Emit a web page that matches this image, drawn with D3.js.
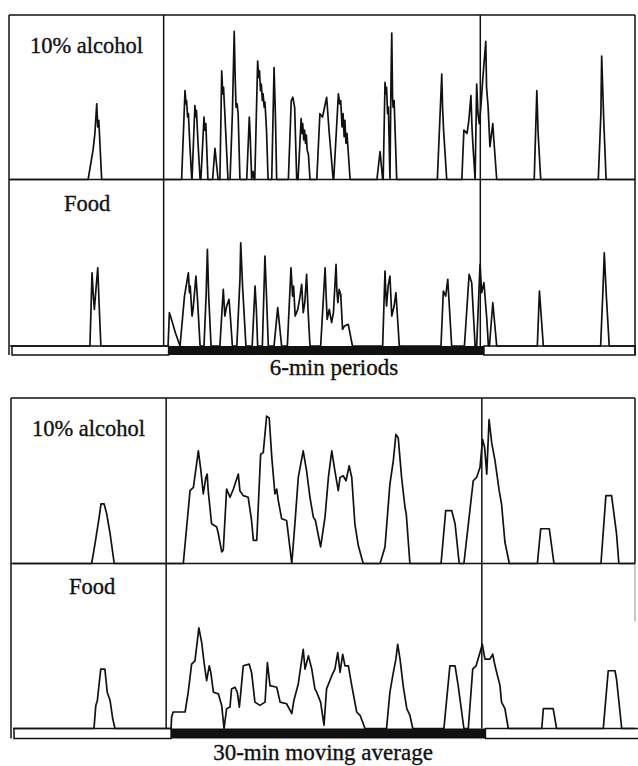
<!DOCTYPE html>
<html>
<head>
<meta charset="utf-8">
<script src="https://cdnjs.cloudflare.com/ajax/libs/d3/7.8.5/d3.min.js"></script>
<style>
  body { margin: 0; background: #fff; }
  svg { display: block; }
  .frame { stroke: #111; stroke-width: 1.5; fill: none; }
  .trace { stroke: #111; stroke-width: 1.7; fill: none; stroke-linejoin: round; }
  .label, .caption { font-family: "Liberation Serif", "DejaVu Serif", serif; fill: #111; stroke: #111; stroke-width: 0.35; }
  .label { font-size: 22.5px; }
  .caption { font-size: 23px; }
</style>
</head>
<body>
<div id="chart"></div>
<script>
// x = 6-min period index (0-240, i.e. 24 h), y = relative intake (100 = full row height)
var periods = [0, 240];
var darkPeriod = [60.9, 182];
var markers = [59, 180.6];
var rowLabels = ["10% alcohol", "Food"];
var captions = ["6-min periods", "30-min moving average"];

// bouts of drinking / eating, each one a list of [period, value]
var alcohol6min = [
    [[30,0],[31.9,18],[32.6,28],[33.3,46],[33.7,32],[34.1,36],[35.2,0]],
    [[65.9,0],[67.2,54],[67.6,46],[67.8,48],[68.2,38],[68.5,40],[69.1,20],[69.8,0]],
    [[69.9,0],[71,45],[71.3,38],[71.6,42],[72.2,22],[73,0]],
    [[73.3,0],[74.5,38],[74.8,30],[75.2,34],[76,0]],
    [[77.8,0],[78.7,19],[79.9,0]],
    [[80.6,0],[81.3,66],[81.7,52],[82,56],[82.5,40],[83.7,0]],
    [[84.5,0],[85.4,40],[86.1,90],[86.5,60],[86.8,44],[87.2,46],[87.6,40],[88.3,0]],
    [[90.9,0],[91.9,38],[92.2,28],[92.8,0],[93.3,5],[93.8,0]],
    [[94,0],[95.1,72],[95.5,62],[95.8,66],[96.2,54],[96.5,58],[96.9,48],[97.2,52],[97.6,44],[97.9,47],[98.5,30],[99.1,0]],
    [[100.5,0],[101.4,68],[101.9,40],[102.4,0]],
    [[106.9,0],[108,48],[108.6,50],[109.3,44],[110.1,0]],
    [[110.6,0],[111.8,37],[112.1,28],[112.4,34],[112.8,24],[113.1,30],[113.5,22],[113.8,27],[114.1,18],[114.6,15],[115.2,0]],
    [[117.8,0],[119,40],[120,38],[121.6,50],[122.5,30],[124.1,0]],
    [[124.3,0],[126.1,52],[126.6,46],[127,48],[127.5,32],[127.9,40],[128.3,26],[128.6,36],[129,22],[129.4,28],[130.6,0]],
    [[140.9,0],[142.1,17],[142.4,12],[143.1,0]],
    [[143.3,0],[144,59],[144.4,52],[144.6,56],[145,40],[145.3,44],[145.9,0],[146.3,60],[146.6,89],[146.9,50],
     [147.1,44],[147.5,48],[148.5,0]],
    [[164.1,0],[165.8,64],[166.1,44],[166.5,30],[167.7,0]],
    [[173.5,0],[174.3,30],[175.5,28],[176.2,36],[177,51],[177.4,32],[177.8,20],[178.6,0],[179.2,58],[179.7,40],
     [180.2,34],[180.8,44],[181.5,60],[182.7,84],[183,56],[183.6,44],[184.3,20],[185.4,34],[185.8,24],[186.9,0]],
    [[201.3,0],[202.3,54],[202.8,28],[203.8,0]],
    [[225.9,0],[226.9,40],[227.2,75],[228,36],[228.9,0]]
];

var food6min = [
    [[30.7,0],[31.5,44],[32,30],[32.4,22],[33,34],[33.7,47],[34.2,26],[34.9,0]],
    [[60.7,0],[61.2,20],[62,16],[63.5,8],[65.3,0]],
    [[65.3,0],[67,30],[68.5,44],[68.9,32],[69.2,36],[69.9,18],[70.3,22],[71.4,42],[72,28],[73,0]],
    [[74.5,0],[75.3,30],[75.8,58],[76.3,30],[77.2,0]],
    [[80.6,0],[81.9,34],[82.5,18],[83.2,24],[84.1,28],[84.6,18],[85.4,0]],
    [[87.1,0],[88.3,40],[88.6,62],[89.3,36],[90.6,0]],
    [[93,0],[94.1,36],[94.6,22],[95.1,0]],
    [[96.9,0],[97.9,54],[98.5,30],[99.2,0]],
    [[101.4,0],[102.8,23],[104.3,0]],
    [[106.5,0],[107.9,47],[108.5,30],[108.9,36],[109.5,18],[110.5,22],[111.2,28],[112,37],[112.6,20],[113.2,26],
     [113.9,43],[114.5,20],[115.2,0]],
    [[119.3,0],[121,47],[121.4,30],[121.8,16],[122.6,22],[123.5,14],[124.2,20],[125.2,49],[125.5,34],[125.9,26],
     [126.4,34],[127,31],[127.7,10],[128.4,12],[129.9,13],[131.5,0]],
    [[143.1,0],[144,45],[144.3,32],[144.6,24],[145.2,36],[145.9,42],[146.6,18],[147.5,24],[148.2,32],[149.5,0]],
    [[165.5,0],[166.4,33],[167.3,30],[168.1,40],[169.6,0]],
    [[174.5,0],[176.3,43],[177.3,38],[178.6,0]],
    [[179.2,0],[180.5,49],[181.1,32],[182,38],[183.1,16],[183.7,0]],
    [[184.1,0],[185.4,26],[186.9,0]],
    [[202.5,0],[203.3,33],[204.8,0]],
    [[226.8,0],[227.8,38],[228.2,56],[229,30],[230.1,0]]
];

var alcoholAvg = [
    [[30.3,0],[31.6,12],[33.2,28],[33.9,36],[35.1,36],[36.1,30],[37.4,18],[39,0]],
    [[65.6,0],[68.2,44],[69.5,46],[71.4,68],[72.4,56],[73.3,42],[74.3,52],[74.8,54],[75.2,44],[76.5,24],
     [78.5,22],[79.1,18],[80.4,7],[81,8],[82.3,45],[83.6,40],[84.9,45],[86.8,54],[87.4,44],[88.7,41],
     [90.6,40],[91.9,26],[92.6,14],[93.9,14],[95.4,66],[96.4,67],[97.7,89],[98.7,88],[99.7,64],[100.9,42],
     [101.6,45],[102.2,38],[103.5,27],[105.4,26],[107.4,0],[108.6,24],[109.9,52],[111.8,68],[113.1,56],
     [114.4,40],[115.7,28],[116.5,26],[118.5,10],[120.2,28],[121.5,52],[122.8,68],[124,56],[125.3,44],
     [126,52],[127.2,53],[128.3,50],[129.5,59],[130.5,52],[131.7,24],[133,11],[134.9,0]],
    [[141.4,0],[143.3,10],[145.2,48],[146.5,62],[147.5,78],[148.4,76],[149.7,52],[151,34],[151.5,30],[152.9,0]],
    [[164.9,0],[166.7,32],[169,32],[170.3,24],[171.9,0]],
    [[173.7,0],[177.3,50],[178.6,52],[179.9,58],[180.9,75],[181.7,70],[182.5,54],[183.4,87],[184.4,73],
     [185.7,62],[187.3,44],[188.2,36],[189.5,13],[191.2,0]],
    [[202,0],[203.3,21],[206.6,21],[208.4,0]],
    [[226.5,0],[228.4,41],[230.6,41],[232.5,18],[233.4,0]]
];

var foodAvg = [
    [[31.2,0],[31.9,14],[32.5,17],[33.8,36],[35.4,36],[36.3,22],[37.4,17],[38.4,6],[39.3,0]],
    [[60.9,0],[61.1,7],[61.7,10],[66.3,10],[67.5,22],[68.8,39],[70.1,41],[71.6,61],[72.7,52],[73.6,40],
     [74.6,29],[75.6,38],[76.2,34],[77.2,22],[79.1,21],[80.4,14],[81.3,0],[82.3,12],[83.6,13],[84.2,24],
     [85.5,25],[86.4,22],[87.2,13],[87.7,21],[88.7,38],[91,39],[91.9,34],[93.2,16],[95.1,14],[97.1,16],
     [98,40],[99,26],[101.6,25],[102.9,16],[105.4,15],[107.4,9],[108.2,17],[109.9,27],[111.8,48],[112.5,36],
     [113.8,44],[115.1,36],[116.3,24],[117,22],[118.5,16],[119.8,2],[120.8,24],[122.8,32],[124,36],[125.1,46],
     [126,34],[127,45],[127.9,38],[129.2,38],[130.5,26],[132.4,10],[133.7,8],[135.6,0]],
    [[143.9,0],[145.2,22],[146.3,32],[147.5,42],[148.2,51],[149.1,42],[150.3,26],[151.7,12],[152.9,8],[154,0]],
    [[166,0],[168.3,38],[170.3,38],[171.5,26],[173.7,0]],
    [[175.4,0],[177.1,36],[178.4,38],[179.9,46],[180.8,51],[181.8,42],[183.7,42],[184.8,45],[185.7,38],
     [187.6,26],[188.2,16],[189.5,12],[190.8,0]],
    [[203.7,0],[204.3,12],[208.1,12],[209.4,0]],
    [[227.4,0],[229.3,35],[231.9,35],[232.5,30],[234.5,0]]
];

function IntakeChart() {};

IntakeChart.prototype = {
    setup: function() {
        this.width = 638;
        this.height = 766;
        this.svg = d3.select("#chart").append("svg")
            .attr("width", this.width)
            .attr("height", this.height);

        // page positions of the two panels (scanned figure is slightly skewed)
        this.panels = [
            { series: [alcohol6min, food6min], caption: captions[0],
              left: 9, right: 635, top: 15, bases: [179.5, 346], barH: 9, xRange: [10, 635],
              rightEnd: 355, barEnd: 635,
              labelX: [30, 64], labelY: [53, 211], captionX: 334, captionY: 375 },
            { series: [alcoholAvg, foodAvg], caption: captions[1],
              left: 11, right: 635, top: 398, bases: [563.5, 728.5], barH: 10, xRange: [13, 636],
              rightEnd: 563.5, barEnd: 640,
              labelX: [32, 69], labelY: [436, 594], captionX: 323, captionY: 760 }
        ];

        for (var i = 0; i < this.panels.length; i++) {
            this.drawPanel(this.panels[i]);
        }
    },

    drawPanel: function(p) {
        var self = this,
            g = this.svg.append("g"),
            x = d3.scaleLinear().domain(periods).range(p.xRange),
            tops = [p.top, p.bases[0]],
            bottom = p.bases[1] + p.barH;

        // light / dark bar under the food row
        g.append("rect").attr("class", "frame").attr("fill", "#fff")
            .attr("x", p.left + 3).attr("y", p.bases[1])
            .attr("width", x(darkPeriod[0]) - p.left - 3).attr("height", p.barH);
        g.append("rect").attr("class", "frame").attr("fill", "#fff")
            .attr("x", x(darkPeriod[1])).attr("y", p.bases[1])
            .attr("width", p.barEnd - x(darkPeriod[1])).attr("height", p.barH);
        g.append("rect").attr("fill", "#111")
            .attr("x", x(darkPeriod[0])).attr("y", p.bases[1])
            .attr("width", x(darkPeriod[1]) - x(darkPeriod[0])).attr("height", p.barH);

        // frame
        g.append("line").attr("class", "frame")
            .attr("x1", p.left).attr("x2", p.right).attr("y1", p.top).attr("y2", p.top);
        g.append("line").attr("class", "frame")
            .attr("x1", p.left).attr("x2", p.left).attr("y1", p.top).attr("y2", bottom);
        g.append("line").attr("class", "frame")
            .attr("x1", p.right).attr("x2", p.right).attr("y1", p.top).attr("y2", p.rightEnd);
        if (p.rightEnd < bottom) {
            // faded part of the right edge in the scan
            g.append("line").attr("class", "frame")
                .attr("stroke-opacity", 0.3).attr("stroke-width", 1)
                .attr("x1", p.right).attr("x2", p.right).attr("y1", p.rightEnd).attr("y2", p.rightEnd + 58);
        }
        g.append("line").attr("class", "frame")
            .attr("x1", p.left).attr("x2", p.right).attr("y1", p.bases[0]).attr("y2", p.bases[0]);
        g.selectAll(".marker").data(markers).enter().append("line")
            .attr("class", "frame marker")
            .attr("x1", function(d) { return x(d); }).attr("x2", function(d) { return x(d); })
            .attr("y1", p.top).attr("y2", p.bases[1]);

        for (var r = 0; r < 2; r++) {
            var y = d3.scaleLinear().domain([0, 100]).range([p.bases[r], tops[r]]);
            self.drawRow(g, p.series[r], x, y, p.right);

            g.append("text").attr("class", "label")
                .attr("x", p.labelX[r]).attr("y", p.labelY[r])
                .text(rowLabels[r]);
        }

        g.append("text").attr("class", "caption")
            .attr("x", p.captionX).attr("y", p.captionY)
            .attr("text-anchor", "middle")
            .text(p.caption);
    },

    drawRow: function(g, bouts, x, y, right) {
        var pts = [[periods[0], 0]];
        bouts.forEach(function(b) { pts = pts.concat(b); });
        pts.push([periods[1], 0]);

        var line = d3.line()
            .x(function(d) { return Math.min(x(d[0]), right); })
            .y(function(d) { return y(d[1]); });

        g.append("path").attr("class", "trace").attr("d", line(pts));
    }
};

var chart = new IntakeChart();
chart.setup();
</script>
</body>
</html>
